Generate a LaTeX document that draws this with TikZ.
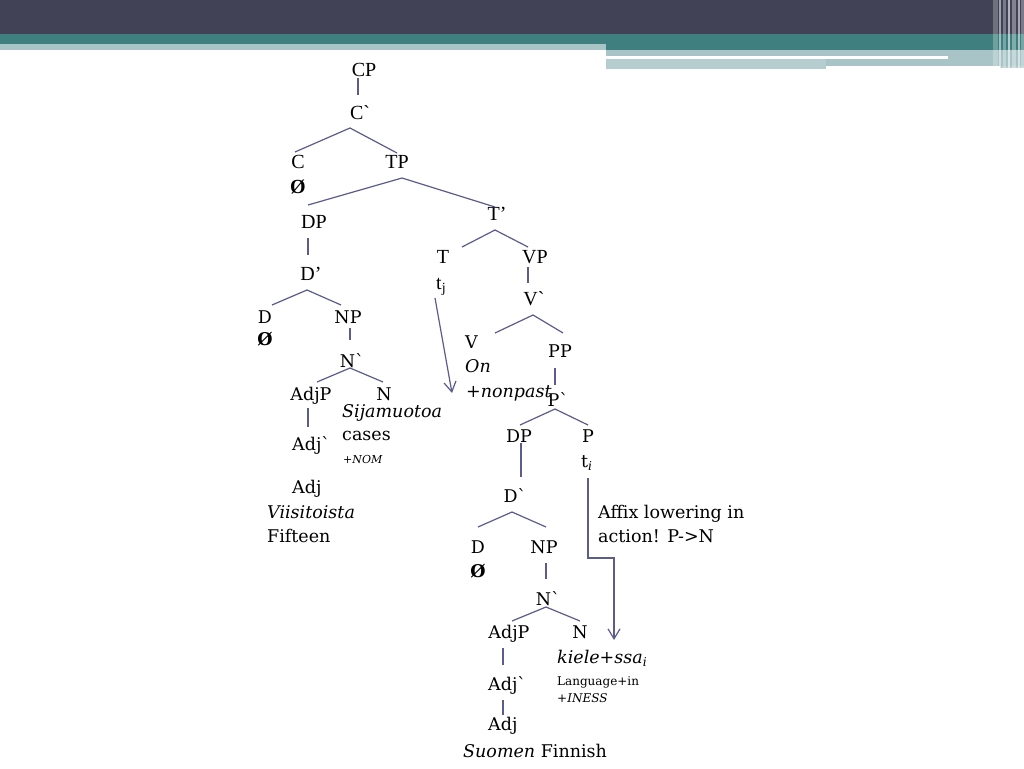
\documentclass[tikz,border=0pt]{standalone}
\usepackage{fontspec}
\setmainfont{Liberation Serif}
\newfontfamily\geo{DejaVu Serif}
\usetikzlibrary{arrows.meta}
\definecolor{bdark}{HTML}{414255}
\definecolor{bteal}{HTML}{3F7F80}
\definecolor{blight}{HTML}{A8C4C6}
\definecolor{blight2}{HTML}{B6CDCF}
\definecolor{lc}{HTML}{5B5B8C}
\newcommand{\gr}{\textasciigrave}
\begin{document}
\begin{tikzpicture}[x=1pt,y=-1pt,
  tm/.style={font=\fontsize{20}{24}\selectfont, inner sep=0pt, anchor=base},
  gg/.style={font=\geo\fontsize{17.5}{21}\selectfont, inner sep=0pt, anchor=base},
  ggl/.style={gg, anchor=base west},
  gs/.style={font=\geo\fontsize{12}{14}\selectfont, inner sep=0pt, anchor=base west},
  br/.style={draw=lc, line width=1.2pt},
  arr/.style={draw=lc, line width=1.2pt, -{Straight Barb[length=10pt,width=12pt]}}
]
\useasboundingbox (0,0) rectangle (1024,768);
\fill[white] (0,0) rectangle (1024,768);
% banner
\fill[bdark] (0,0) rectangle (1024,34);
\fill[bteal] (0,34) rectangle (1024,44);
\fill[blight] (0,44) rectangle (606,50);
\fill[bteal] (606,44) rectangle (1024,50);
\fill[blight] (606,50) rectangle (1024,66);
\fill[white] (606,56) rectangle (948,59);
\fill[blight2] (606,59) rectangle (826,69);
\fill[blight2] (1000,66) rectangle (1024,68);
\foreach \a/\b/\o in {993/998/0.25,999/1001/0.5,1003/1006/0.3,1008/1010/0.6,1012/1016/0.35,1018/1020/0.55,1021/1024/0.3}
  \fill[white, opacity=\o] (\a,0) rectangle (\b,68);

% ---------- nodes (Times part)
\node[tm] (CP) at (364,76) {CP};
\node[tm] (Cb) at (360,119) {C\gr};
\node[tm] (C) at (298,168) {C};
\node[tm] (Cz) at (298,193) {\bfseries Ø};
\node[tm] (TP) at (397,168) {TP};
\node[tm] (DP1) at (314,228) {DP};
\node[tm] (Tb) at (497,220) {T’};
\node[tm] (Db1) at (311,280) {D’};
\node[tm] (T) at (443,263) {T};
\node[tm, anchor=base west] (tj) at (436,289) {t\textsubscript{j}};
\node[tm] (VP) at (535,263) {VP};
\node[tm] (Vb) at (534,305) {V\gr};

% ---------- left subtree
\node[gg] (D1) at (265,323) {D};
\node[gg] (D1z) at (265,345) {\bfseries Ø};
\node[gg] (NP1) at (348,323) {NP};
\node[gg] (Nb1) at (352,367) {N\gr};
\node[gg] (AdjP1) at (311,400) {AdjP};
\node[gg] (N1) at (384,400) {N};
\node[ggl] (sija) at (342,417) {\itshape Sijamuotoa};
\node[ggl] (cases) at (342,440) {cases};
\node[gs] (nom) at (343,463) {\fontsize{11}{13}\selectfont\itshape +NOM};
\node[ggl] (Adjb1) at (292,450) {Adj\gr};
\node[ggl] (Adj1) at (292,493) {Adj};
\node[ggl] (viis) at (267,518) {\itshape Viisitoista};
\node[ggl] (fift) at (267,542) {Fifteen};

% ---------- right subtree
\node[ggl] (V) at (465,348) {V};
\node[ggl] (On) at (465,372) {\itshape On};
\node[ggl] (nonpast) at (466,397) {\itshape +nonpast};
\node[gg] (PP) at (560,357) {PP};
\node[gg] (Pb) at (558,406) {P\gr};
\node[gg] (DP2) at (519,442) {DP};
\node[gg] (P) at (588,442) {P};
\node[ggl] (ti) at (581,467) {t\textsubscript{\itshape i}};
\node[gg] (Db2) at (515,502) {D\gr};
\node[gg] (D2) at (478,553) {D};
\node[gg] (D2z) at (478,577) {\bfseries Ø};
\node[gg] (NP2) at (544,553) {NP};
\node[gg] (Nb2) at (548,605) {N\gr};
\node[gg] (AdjP2) at (509,638) {AdjP};
\node[gg] (N2) at (580,638) {N};
\node[ggl] (kiele) at (557,663) {\itshape kiele+ssa\textsubscript{i}};
\node[gs] (lang) at (557,685) {Language+in};
\node[gs] (iness) at (557,702) {+\itshape INESS};
\node[ggl] (Adjb2) at (488,690) {Adj\gr};
\node[ggl] (Adj2) at (488,730) {Adj};
\node[ggl] (suomen) at (463,757) {\itshape Suomen\/\upshape\ Finnish};
\node[ggl] (affix1) at (598,518) {Affix lowering in};
\node[ggl] (affix2) at (598,542) {action! P->N};

% ---------- branch coordinates
\coordinate (cp-s) at (358,78);   \coordinate (cb-n) at (358,95);
\coordinate (cb-s) at (350,128);  \coordinate (c-n) at (295,152); \coordinate (tp-n) at (397,153);
\coordinate (tp-s) at (402,178);  \coordinate (dp1-n) at (308,205); \coordinate (tb-n) at (495,207);
\coordinate (dp1-s) at (308,238); \coordinate (db1-n) at (308,255);
\coordinate (db1-s) at (307,290); \coordinate (d1-n) at (272,305); \coordinate (np1-n) at (341,305);
\coordinate (tb-s) at (495,230);  \coordinate (t-n) at (462,247); \coordinate (vp-n) at (528,247);
\coordinate (vp-s) at (528,267);  \coordinate (vb-n) at (528,283);
\coordinate (vb-s) at (533,315);  \coordinate (v-n) at (495,333); \coordinate (pp-n) at (563,333);
\coordinate (pp-s) at (555,368);  \coordinate (pb-n) at (555,385);
\coordinate (pb-s) at (555,409);  \coordinate (dp2-n) at (520,425); \coordinate (p-n) at (588,425);
\coordinate (dp2-s) at (521,443); \coordinate (db2-n) at (521,477);
\coordinate (db2-s) at (512,512); \coordinate (d2-n) at (478,527); \coordinate (np2-n) at (546,527);
\coordinate (np2-s) at (546,563); \coordinate (nb2-n) at (546,579);
\coordinate (nb2-s) at (546,607); \coordinate (adjp2-n) at (512,621); \coordinate (n2-n) at (580,621);
\coordinate (adjp2-s) at (503,648); \coordinate (adjb2-n) at (503,665);
\coordinate (adjb2-s) at (503,700); \coordinate (adj2-n) at (503,715);
\coordinate (np1-s) at (350,328); \coordinate (nb1-n) at (350,340);
\coordinate (nb1-s) at (350,368); \coordinate (adjp1-n) at (317,382); \coordinate (n1-n) at (383,382);
\coordinate (adjp1-s) at (308,408); \coordinate (adjb1-n) at (308,427);

\draw[br] (cp-s) -- (cb-n);
\draw[br] (c-n) -- (cb-s) -- (tp-n);
\draw[br] (dp1-n) -- (tp-s) -- (tb-n);
\draw[br] (dp1-s) -- (db1-n);
\draw[br] (d1-n) -- (db1-s) -- (np1-n);
\draw[br] (t-n) -- (tb-s) -- (vp-n);
\draw[br] (vp-s) -- (vb-n);
\draw[br] (v-n) -- (vb-s) -- (pp-n);
\draw[br] (pp-s) -- (pb-n);
\draw[br] (dp2-n) -- (pb-s) -- (p-n);
\draw[br] (dp2-s) -- (db2-n);
\draw[br] (d2-n) -- (db2-s) -- (np2-n);
\draw[br] (np2-s) -- (nb2-n);
\draw[br] (adjp2-n) -- (nb2-s) -- (n2-n);
\draw[br] (adjp2-s) -- (adjb2-n);
\draw[br] (adjb2-s) -- (adj2-n);
\draw[br] (np1-s) -- (nb1-n);
\draw[br] (adjp1-n) -- (nb1-s) -- (n1-n);
\draw[br] (adjp1-s) -- (adjb1-n);

% ---------- movement arrows
\coordinate (tj-s) at (435,298);  \coordinate (tj-e) at (452,393);
\draw[arr] (tj-s) -- (tj-e);
\coordinate (ti-s) at (588,478); \coordinate (ti-m1) at (588,558);
\coordinate (ti-m2) at (614,558); \coordinate (ti-e) at (614,640);
\draw[arr] (ti-s) -- (ti-m1) -- (ti-m2) -- (ti-e);
\end{tikzpicture}
\end{document}
